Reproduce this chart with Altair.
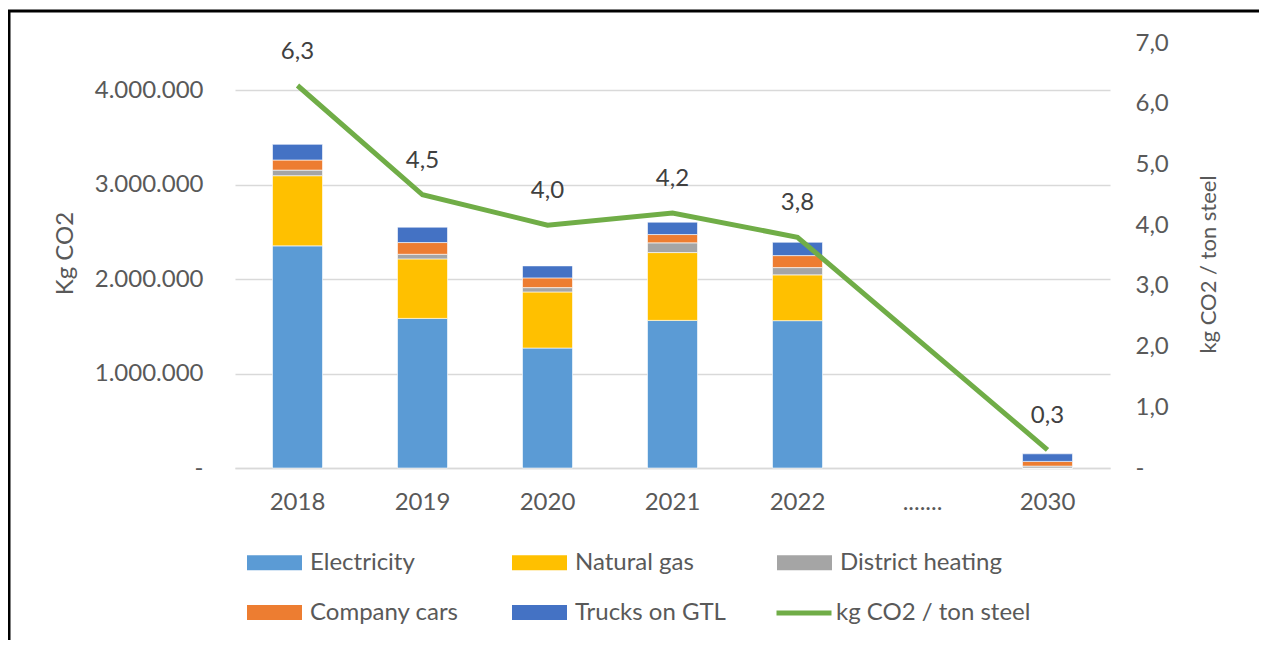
import altair as alt
import pandas as pd

years = ["2018", "2019", "2020", "2021", "2022", ".......", "2030"]
electricity = [2352000, 1584000, 1270000, 1563000, 1560000, None, 0]
natural_gas = [743000, 630000, 594000, 718000, 485000, None, 0]
district_heating = [59000, 49000, 46000, 103000, 77000, None, 20000]
company_cars = [107000, 124000, 103000, 88000, 127000, None, 50000]
trucks_gtl = [166000, 163000, 127000, 131000, 141000, None, 80000]
intensity = [6.3, 4.5, 4.0, 4.2, 3.8, None, 0.3]

sources = ["Electricity", "Natural gas", "District heating", "Company cars", "Trucks on GTL"]
source_colors = ["#5B9BD5", "#FFC000", "#A5A5A5", "#ED7D31", "#4472C4"]
line_name = "kg CO2 / ton steel"

series = [electricity, natural_gas, district_heating, company_cars, trucks_gtl]
rows = []
for si, (name, vals) in enumerate(zip(sources, series)):
    for y, v in zip(years, vals):
        if v is not None:
            rows.append({"year": y, "source": name, "value": v, "order": si})
bars_df = pd.DataFrame(rows)
line_df = pd.DataFrame({"year": years, "intensity": intensity, "series": [line_name] * len(years)})
line_df = line_df.dropna(subset=["intensity"])

FONT = "Lato"
GREY = "#595959"
FS = 24

x_enc = alt.X("year:N", sort=years, scale=alt.Scale(domain=years, paddingInner=0.6, paddingOuter=0.3),
              axis=alt.Axis(title=None, labelAngle=0, labelFontSize=FS, labelColor=GREY, labelFont=FONT,
                            domainColor="#D9D9D9", domainWidth=1.5, ticks=False, labelPadding=22))

bars = alt.Chart(bars_df).mark_bar(stroke="white", strokeWidth=0.6).encode(
    x=x_enc,
    y=alt.Y("value:Q", stack="zero",
            scale=alt.Scale(domain=[0, 4500000], nice=False),
            axis=alt.Axis(title="Kg CO2", values=[0, 1000000, 2000000, 3000000, 4000000],
                          labelExpr="datum.value == 0 ? '-\u00a0\u00a0\u00a0' : replace(format(datum.value, ',.0f'), regexp(',', 'g'), '.')",
                          grid=True, gridColor="#D9D9D9", gridWidth=1.5, domain=False, ticks=False,
                          labelPadding=32, labelFontSize=FS, labelColor=GREY, labelFont=FONT,
                          titleFontSize=FS, titleColor=GREY, titleFont=FONT, titleFontWeight="normal",
                          titleX=-170, titleY=210, titleAlign="center", titleBaseline="middle")),
    color=alt.Color("source:N", scale=alt.Scale(domain=sources, range=source_colors),
                    legend=alt.Legend(title=None, orient="none", legendX=12, legendY=492, columns=3,
                                      direction="horizontal",
                                      symbolType="M-1,-0.27L1,-0.27L1,0.27L-1,0.27Z", symbolSize=3025,
                                      symbolStrokeWidth=0, labelFontSize=FS, labelColor=GREY, labelFont=FONT,
                                      labelOffset=8, columnPadding=40, rowPadding=10, gridAlign="all",
                                      labelLimit=300)),
    order=alt.Order("order:Q", sort="ascending"),
)

y2_scale = alt.Scale(domain=[0, 7], nice=False)

line = alt.Chart(line_df).mark_line(strokeWidth=5).encode(
    x=alt.X("year:N", sort=years),
    y=alt.Y("intensity:Q", scale=y2_scale,
            axis=alt.Axis(orient="right", title=line_name, values=[0, 1, 2, 3, 4, 5, 6, 7],
                          labelExpr="datum.value == 0 ? '\u00a0-' : replace(format(datum.value, '.1f'), '.', ',')",
                          grid=False, domain=False, ticks=False, labelPadding=25,
                          labelFontSize=FS, labelColor=GREY, labelFont=FONT,
                          titleFontSize=22, titleColor=GREY, titleFont=FONT, titleFontWeight="normal",
                          titleAngle=270, titleX=98, titleY=221, titleAlign="center", titleBaseline="middle")),
    stroke=alt.Stroke("series:N", scale=alt.Scale(domain=[line_name], range=["#70AD47"]),
                      legend=alt.Legend(title=None, orient="none", legendX=539, legendY=540,
                                        symbolType="stroke", symbolSize=3025, symbolStrokeWidth=5,
                                        labelFontSize=FS, labelColor=GREY, labelFont=FONT, labelOffset=2,
                                        labelLimit=300)),
)

labels = alt.Chart(line_df).transform_calculate(
    lbl="replace(format(datum.intensity, '.1f'), '.', ',')"
).mark_text(dy=-34, fontSize=FS, font=FONT, color="#404040").encode(
    x=alt.X("year:N", sort=years),
    y=alt.Y("intensity:Q", scale=y2_scale),
    text="lbl:N",
)

frame = alt.Chart(pd.DataFrame({"f": [0]})).mark_rect(fillOpacity=0, stroke="black", strokeWidth=3).encode(
    x=alt.value(-226), x2=alt.value(1027), y=alt.value(-32), y2=alt.value(640)
)

right = alt.layer(line, labels)
chart = alt.layer(bars, right, frame).resolve_scale(y="independent", color="independent", stroke="independent").properties(
    width=875, height=425,
    autosize=alt.AutoSizeParams(type="none"),
    padding={"left": 227, "top": 35, "right": 149, "bottom": 172},
).configure(font=FONT).configure_view(strokeWidth=0)

chart.save("out.html", embed_options={"renderer": "svg", "actions": False})
